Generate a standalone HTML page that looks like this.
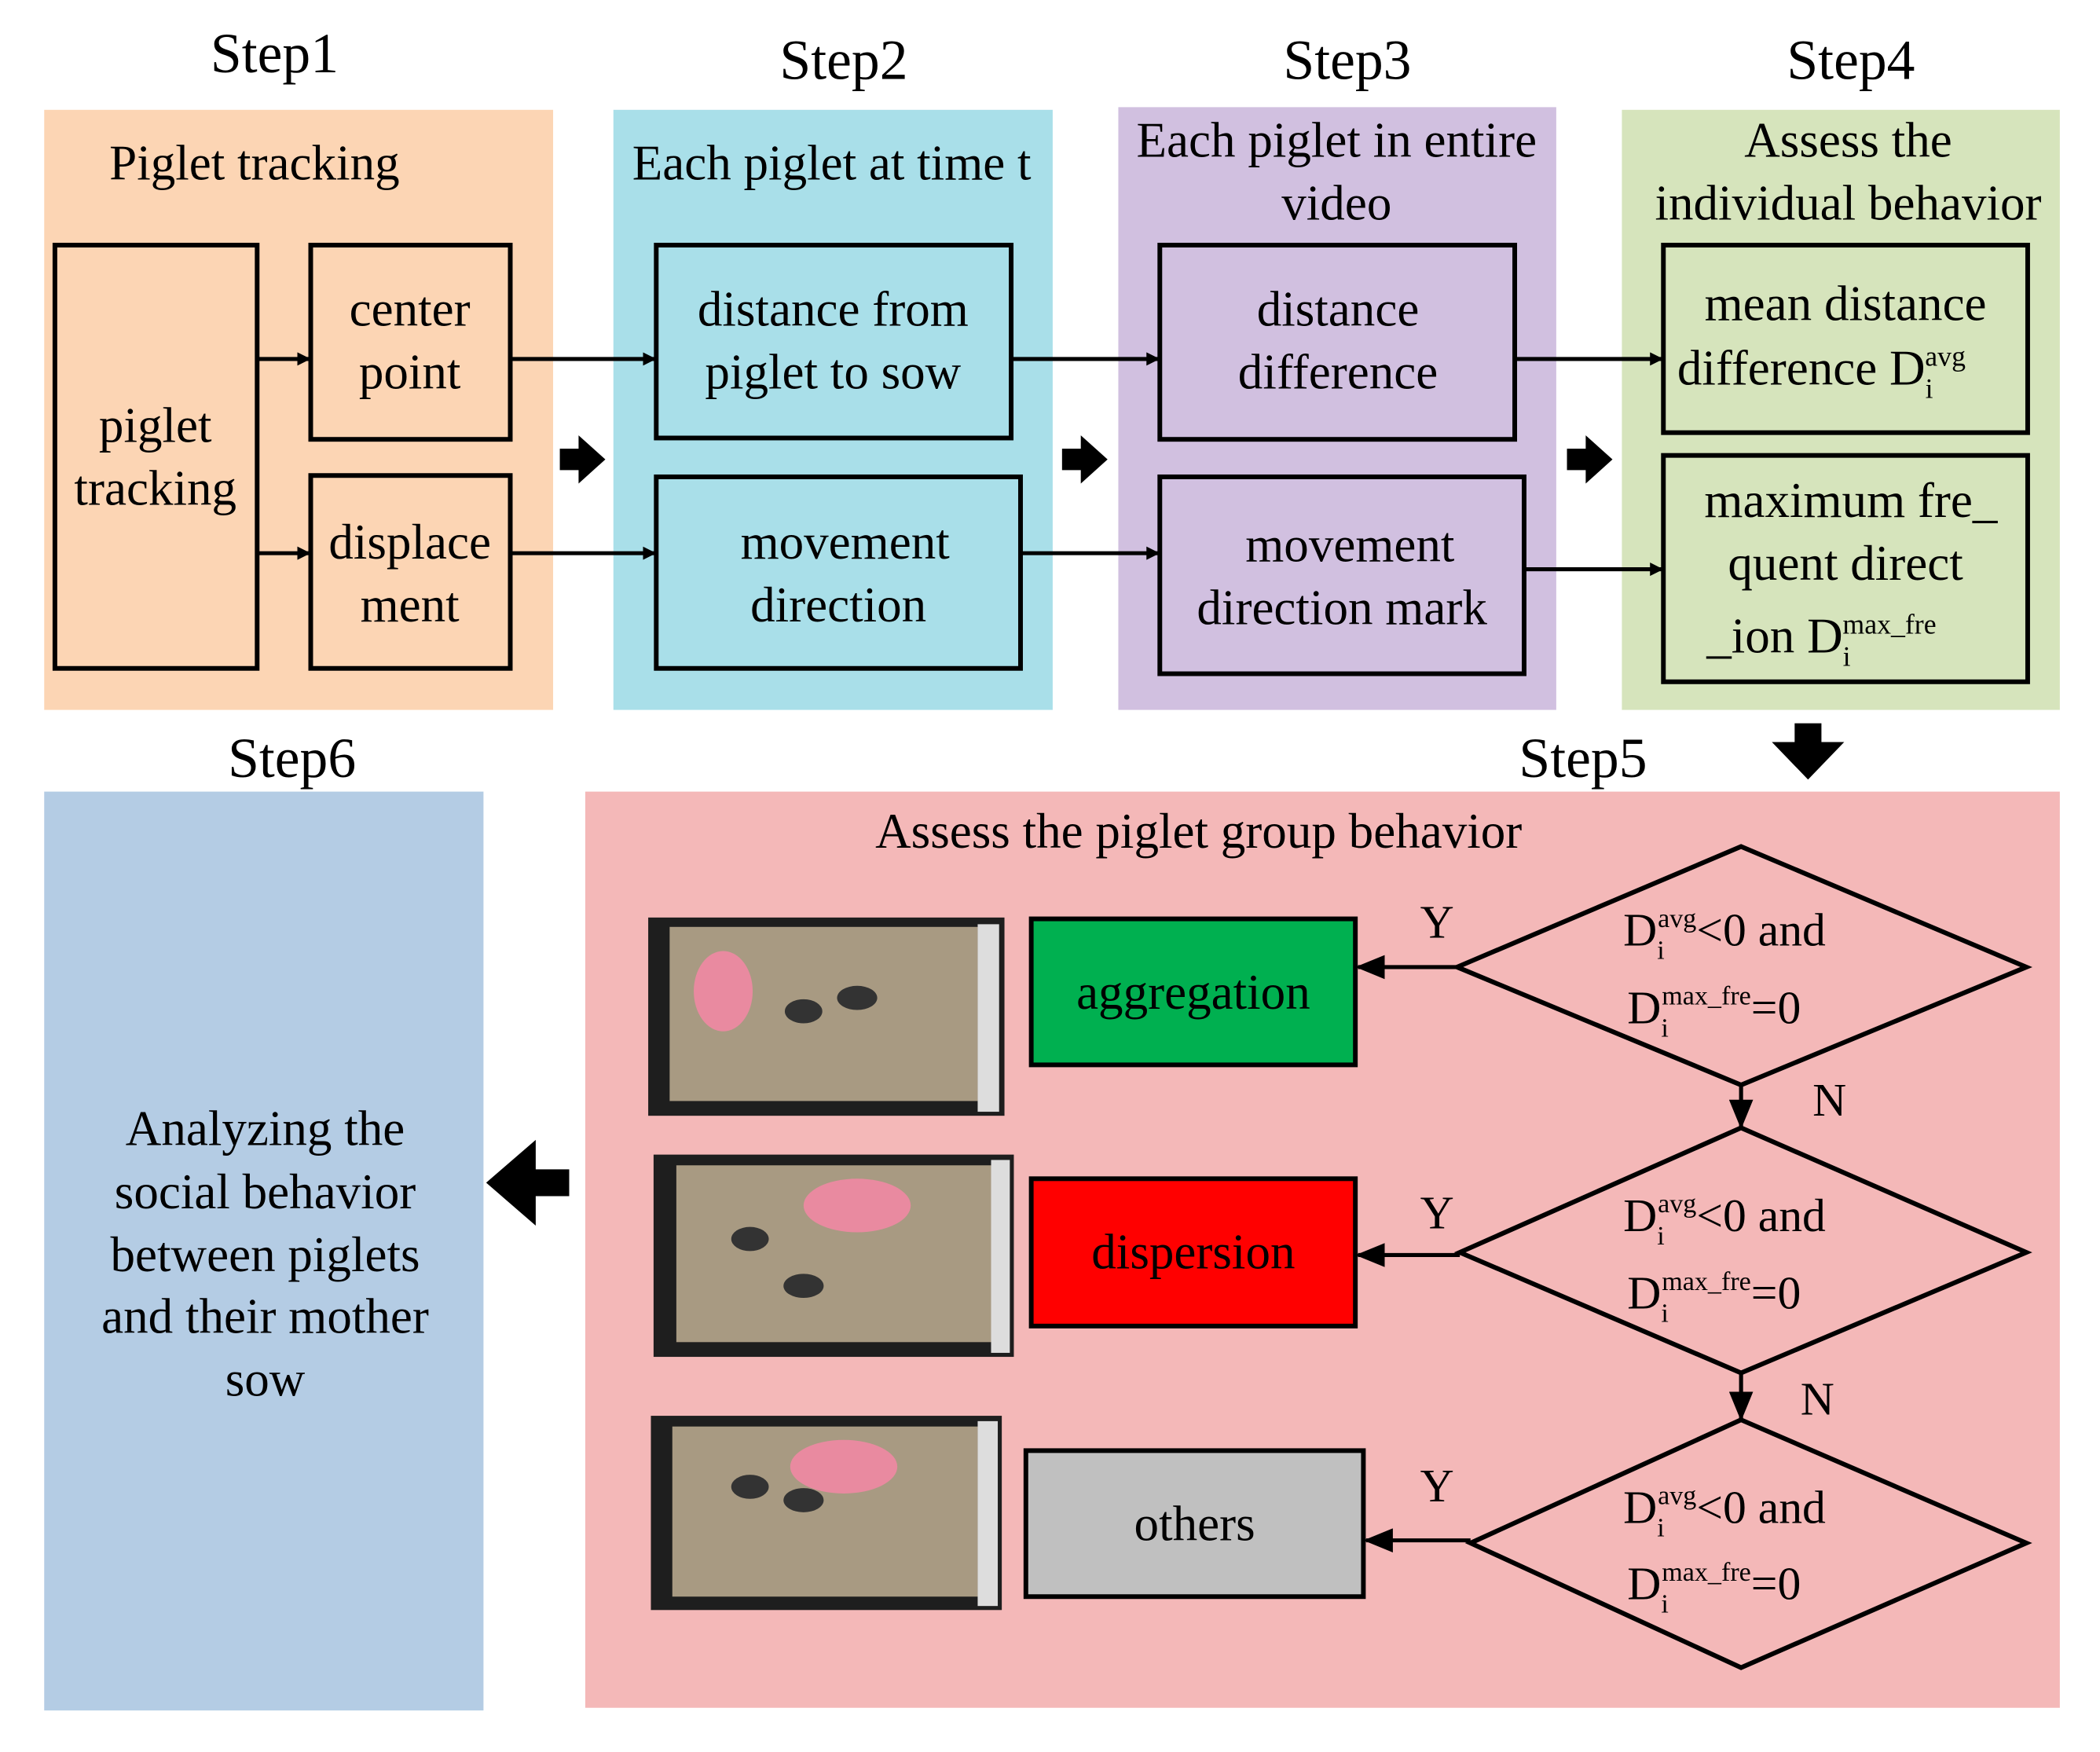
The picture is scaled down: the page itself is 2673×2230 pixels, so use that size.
<!DOCTYPE html>
<html><head><meta charset="utf-8"><style>
html,body{margin:0;padding:0;background:#fff;}
svg{display:block;}
text{font-family:"Liberation Serif",serif;fill:#000;}
</style></head><body>
<svg width="2673" height="2230" viewBox="0 0 1568 1308" preserveAspectRatio="none" xmlns="http://www.w3.org/2000/svg">
<defs>
<marker id="ah" markerWidth="10" markerHeight="10" refX="9" refY="5" orient="auto" markerUnits="userSpaceOnUse"><path d="M0,0 L10,5 L0,10 z" fill="#000"/></marker>
<marker id="ah2" markerWidth="22" markerHeight="18" refX="20" refY="9" orient="auto" markerUnits="userSpaceOnUse"><path d="M0,0 L22,9 L0,18 z" fill="#000"/></marker>
</defs>
<g font-size="42" text-anchor="middle">
<text x="205" y="54">Step1</text>
<text x="630" y="59">Step2</text>
<text x="1006" y="59">Step3</text>
<text x="1382" y="59">Step4</text>
<text x="1182" y="580">Step5</text>
<text x="218" y="580">Step6</text>
</g>
<rect x="33" y="82" width="380" height="448" fill="#fcd5b4"/>
<rect x="458" y="82" width="328" height="448" fill="#a9dfe9"/>
<rect x="835" y="80" width="327" height="450" fill="#d1c0e0"/>
<rect x="1211" y="82" width="327" height="448" fill="#d6e4bc"/>
<rect x="437" y="591" width="1101" height="684" fill="#f4b8b8"/>
<rect x="33" y="591" width="328" height="686" fill="#b4cce4"/>
<g font-size="37" text-anchor="middle">
<text x="190" y="134">Piglet tracking</text>
<text x="621" y="134">Each piglet at time t</text>
<text x="998" y="117">Each piglet in entire</text>
<text x="998" y="164">video</text>
<text x="1380" y="117">Assess the</text>
<text x="1380" y="164">individual behavior</text>
</g>
<g fill="none" stroke="#000" stroke-width="3.5">
<rect x="41" y="183" width="151" height="316"/>
<rect x="232" y="183" width="149" height="145"/>
<rect x="232" y="355" width="149" height="144"/>
<rect x="490" y="183" width="265" height="144"/>
<rect x="490" y="356" width="272" height="143"/>
<rect x="866" y="183" width="265" height="145"/>
<rect x="866" y="356" width="272" height="147"/>
<rect x="1242" y="183" width="272" height="140"/>
<rect x="1242" y="340" width="272" height="169"/>
</g>
<g font-size="37" text-anchor="middle">
<text x="116" y="330">piglet</text><text x="116" y="377">tracking</text>
<text x="306" y="243">center</text><text x="306" y="290">point</text>
<text x="306" y="417">displace</text><text x="306" y="464">ment</text>
<text x="622" y="243">distance from</text><text x="622" y="290">piglet to sow</text>
<text x="631" y="417">movement</text><text x="626" y="464">direction</text>
<text x="999" y="243">distance</text><text x="999" y="290">difference</text>
<text x="1008" y="419">movement</text><text x="1002" y="466">direction mark</text>
<text x="1378" y="239">mean distance</text>
<text x="1360" y="287">difference D<tspan font-size="21" dy="10">i</tspan><tspan font-size="21" dx="-6" dy="-24">avg</tspan></text>
<text x="1382" y="386">maximum fre_</text>
<text x="1378" y="433">quent direct</text>
<text x="1360" y="487">_ion D<tspan font-size="21" dy="10">i</tspan><tspan font-size="21" dx="-6" dy="-24">max_fre</tspan></text>
</g>
<g stroke="#000" stroke-width="3" marker-end="url(#ah)">
<line x1="192" y1="268" x2="231" y2="268"/>
<line x1="192" y1="413" x2="231" y2="413"/>
<line x1="381" y1="268" x2="489" y2="268"/>
<line x1="381" y1="413" x2="489" y2="413"/>
<line x1="755" y1="268" x2="865" y2="268"/>
<line x1="762" y1="413" x2="865" y2="413"/>
<line x1="1131" y1="268" x2="1241" y2="268"/>
<line x1="1138" y1="425" x2="1241" y2="425"/>
</g>
<g fill="#000">
<path d="M418,335 h14 v-10 l20,18 l-20,18 v-10 h-14 z"/>
<path d="M793,335 h14 v-10 l20,18 l-20,18 v-10 h-14 z"/>
<path d="M1170,335 h14 v-10 l20,18 l-20,18 v-10 h-14 z"/>
<path d="M1340,540 h20 v14 h17 l-27,28 l-27,-28 h17 z"/>
<path d="M425,873 v20 h-25 v22 l-37,-32 l37,-32 v22 z"/>
</g>
<text x="895" y="633" font-size="37" text-anchor="middle">Assess the piglet group behavior</text>
<g>
<rect x="484" y="685" width="266" height="148" fill="#1e1e1e"/>
<rect x="500" y="692" width="230" height="130" fill="#a89a82"/>
<rect x="730" y="690" width="16" height="140" fill="#ddd"/>
<ellipse cx="540" cy="740" rx="22" ry="30" fill="#e98aa0"/>
<ellipse cx="600" cy="755" rx="14" ry="9" fill="#333"/><ellipse cx="640" cy="745" rx="15" ry="9" fill="#333"/>
<rect x="488" y="862" width="269" height="151" fill="#1e1e1e"/>
<rect x="505" y="870" width="235" height="132" fill="#a89a82"/>
<rect x="740" y="866" width="14" height="144" fill="#ddd"/>
<ellipse cx="640" cy="900" rx="40" ry="20" fill="#e98aa0"/>
<ellipse cx="560" cy="925" rx="14" ry="9" fill="#333"/><ellipse cx="600" cy="960" rx="15" ry="9" fill="#333"/>
<rect x="486" y="1057" width="262" height="145" fill="#1e1e1e"/>
<rect x="502" y="1065" width="228" height="127" fill="#a89a82"/>
<rect x="730" y="1061" width="15" height="138" fill="#ddd"/>
<ellipse cx="630" cy="1095" rx="40" ry="20" fill="#e98aa0"/>
<ellipse cx="560" cy="1110" rx="14" ry="9" fill="#333"/><ellipse cx="600" cy="1120" rx="15" ry="9" fill="#333"/>
</g>
<g stroke="#000" stroke-width="3.5">
<rect x="770" y="686" width="242" height="109" fill="#00b050"/>
<rect x="770" y="880" width="242" height="110" fill="#ff0000"/>
<rect x="766" y="1083" width="252" height="109" fill="#c0c0c0"/>
<polygon points="1300,632 1513,722 1300,810 1088,722" fill="none"/>
<polygon points="1300,842 1513,935 1300,1025 1090,935" fill="none"/>
<polygon points="1300,1060 1513,1152 1300,1245 1098,1152" fill="none"/>
</g>
<g font-size="37" text-anchor="middle">
<text x="891" y="753">aggregation</text>
<text x="891" y="947">dispersion</text>
<text x="892" y="1150">others</text>
</g>
<g stroke="#000" stroke-width="3" marker-end="url(#ah2)">
<line x1="1088" y1="722" x2="1014" y2="722"/>
<line x1="1090" y1="937" x2="1014" y2="937"/>
<line x1="1098" y1="1150" x2="1020" y2="1150"/>
<line x1="1300" y1="810" x2="1300" y2="841"/>
<line x1="1300" y1="1025" x2="1300" y2="1059"/>
</g>
<g font-size="35" text-anchor="middle">
<text x="1073" y="700">Y</text><text x="1073" y="917">Y</text><text x="1073" y="1121">Y</text>
<text x="1366" y="833">N</text><text x="1357" y="1056">N</text>
</g>
<g font-size="35">
<text x="1212" y="706">D<tspan font-size="20" dy="10">i</tspan><tspan font-size="20" dx="-5" dy="-24">avg</tspan><tspan dy="14">&lt;0 and</tspan></text>
<text x="1215" y="764">D<tspan font-size="20" dy="10">i</tspan><tspan font-size="20" dx="-5" dy="-24">max_fre</tspan><tspan dy="14">=0</tspan></text>
<text x="1212" y="919">D<tspan font-size="20" dy="10">i</tspan><tspan font-size="20" dx="-5" dy="-24">avg</tspan><tspan dy="14">&lt;0 and</tspan></text>
<text x="1215" y="977">D<tspan font-size="20" dy="10">i</tspan><tspan font-size="20" dx="-5" dy="-24">max_fre</tspan><tspan dy="14">=0</tspan></text>
<text x="1212" y="1137">D<tspan font-size="20" dy="10">i</tspan><tspan font-size="20" dx="-5" dy="-24">avg</tspan><tspan dy="14">&lt;0 and</tspan></text>
<text x="1215" y="1194">D<tspan font-size="20" dy="10">i</tspan><tspan font-size="20" dx="-5" dy="-24">max_fre</tspan><tspan dy="14">=0</tspan></text>
</g>
<g font-size="37" text-anchor="middle">
<text x="198" y="855">Analyzing the</text>
<text x="198" y="902">social behavior</text>
<text x="198" y="949">between piglets</text>
<text x="198" y="995">and their mother</text>
<text x="198" y="1042">sow</text>
</g>
</svg>
</body></html>
